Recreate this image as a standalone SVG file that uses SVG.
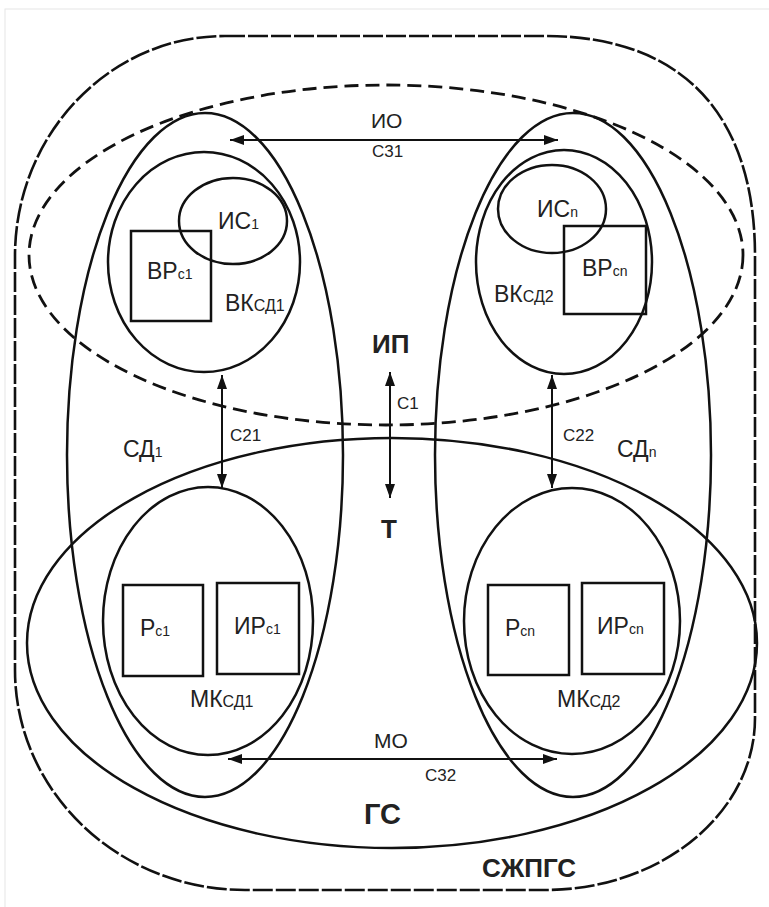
<svg xmlns="http://www.w3.org/2000/svg" width="769" height="907" viewBox="0 0 769 907">
<defs>
<style>
.ln{fill:none;stroke:#111;stroke-width:2.5}
.bx{fill:none;stroke:#111;stroke-width:2.5}
.d1{fill:none;stroke:#111;stroke-width:2.6;stroke-dasharray:20 3}
.d2{fill:none;stroke:#111;stroke-width:2.8;stroke-dasharray:14 7}
.ar{fill:none;stroke:#111;stroke-width:2}
text{font-family:"Liberation Sans",Arial,sans-serif;fill:#222}
.t{font-size:23px}
.s{font-size:14px}
.sd{font-size:16px}
.c{font-size:17px}
.m{font-size:21px}
.b{font-weight:bold}
</style>
<marker id="ah" viewBox="0 0 14 10" refX="14" refY="5" markerWidth="14" markerHeight="10" markerUnits="userSpaceOnUse" orient="auto-start-reverse">
<path d="M0,0 L14,5 L0,10 Z" fill="#111"/>
</marker>
</defs>
<rect x="0" y="0" width="769" height="907" fill="#fff"/>
<rect x="5" y="9" width="800" height="950" fill="none" stroke="#e6e6e6" stroke-width="1"/>

<g id="szhpgs">
<path class="d1" d="M225,36 L545,36 C681,36 755,113 755,256 L755,718 C755,813 661,890 545,890 L245,890 C118,890 15,791 15,670 L15,256 C15,135 109,36 225,36 Z"/>
<text class="b" x="482" y="877" style="font-size:26px">СЖПГС</text>
</g>

<g id="io">
<ellipse class="d2" cx="386" cy="255" rx="357" ry="170"/>
</g>

<g id="gs">
<ellipse class="ln" cx="392" cy="643" rx="365" ry="205"/>
<text class="b" x="364" y="824" style="font-size:29px">ГС</text>
</g>

<g id="sd1">
<ellipse class="ln" cx="205" cy="455" rx="138" ry="342"/>
<text class="t" x="123" y="457">СД<tspan class="s">1</tspan></text>
</g>

<g id="sdn">
<ellipse class="ln" cx="573" cy="455" rx="138" ry="342"/>
<text class="t" x="617" y="457">СД<tspan class="s">n</tspan></text>
</g>

<g id="vk1">
<ellipse class="ln" cx="204" cy="262" rx="96" ry="110"/>
<text class="t" x="225" y="311">ВК<tspan class="sd">СД1</tspan></text>
</g>

<g id="is1">
<ellipse class="ln" cx="233" cy="221" rx="54" ry="43"/>
<text class="t" x="218" y="229">ИС<tspan class="s">1</tspan></text>
</g>

<g id="vr1">
<rect class="bx" x="131" y="231" width="80" height="90"/>
<text class="t" x="147" y="279">ВР<tspan class="s">с1</tspan></text>
</g>

<g id="vk2">
<ellipse class="ln" cx="564" cy="262" rx="88" ry="112"/>
<text class="t" x="494" y="302">ВК<tspan class="sd">СД2</tspan></text>
</g>

<g id="isn">
<ellipse class="ln" cx="552" cy="209" rx="54" ry="44"/>
<text class="t" x="537" y="217">ИС<tspan class="s">n</tspan></text>
</g>

<g id="vrn">
<rect class="bx" x="564" y="226" width="82" height="88"/>
<text class="t" x="582" y="276">ВР<tspan class="s">сn</tspan></text>
</g>

<g id="mk1">
<ellipse class="ln" cx="208" cy="621" rx="105" ry="134"/>
<text class="t" x="190" y="707">МК<tspan class="sd">СД1</tspan></text>
</g>

<g id="r1">
<rect class="bx" x="123" y="585" width="80" height="91"/>
<text class="t" x="140" y="636">Р<tspan class="s">с1</tspan></text>
</g>

<g id="ir1">
<rect class="bx" x="217" y="583" width="82" height="91"/>
<text class="t" x="234" y="634">ИР<tspan class="s">с1</tspan></text>
</g>

<g id="mk2">
<ellipse class="ln" cx="572" cy="621" rx="108" ry="133"/>
<text class="t" x="557" y="707">МК<tspan class="sd">СД2</tspan></text>
</g>

<g id="rn">
<rect class="bx" x="488" y="585" width="81" height="90"/>
<text class="t" x="505" y="636">Р<tspan class="s">сn</tspan></text>
</g>

<g id="irn">
<rect class="bx" x="582" y="583" width="82" height="91"/>
<text class="t" x="597" y="634">ИР<tspan class="s">сn</tspan></text>
</g>

<g id="ip">
<text class="b" x="372" y="353" style="font-size:26px">ИП</text>
</g>
<g id="t">
<text class="b" x="381" y="538" style="font-size:26px">Т</text>
</g>

<g id="connectors">
<line class="ar" x1="230" y1="140" x2="558" y2="140" marker-start="url(#ah)" marker-end="url(#ah)"/>
<text class="m" x="371" y="128">ИО</text>
<text class="c" x="372" y="157">С31</text>

<line class="ar" x1="222" y1="375" x2="222" y2="488" marker-start="url(#ah)" marker-end="url(#ah)"/>
<text class="c" x="230" y="441">С21</text>

<line class="ar" x1="390" y1="372" x2="390" y2="498" marker-start="url(#ah)" marker-end="url(#ah)"/>
<text class="c" x="397" y="409">С1</text>

<line class="ar" x1="552" y1="375" x2="552" y2="488" marker-start="url(#ah)" marker-end="url(#ah)"/>
<text class="c" x="563" y="441">С22</text>

<line class="ar" x1="228" y1="759" x2="557" y2="759" marker-start="url(#ah)" marker-end="url(#ah)"/>
<text class="m" x="374" y="748">МО</text>
<text class="c" x="425" y="781">С32</text>
</g>
</svg>
